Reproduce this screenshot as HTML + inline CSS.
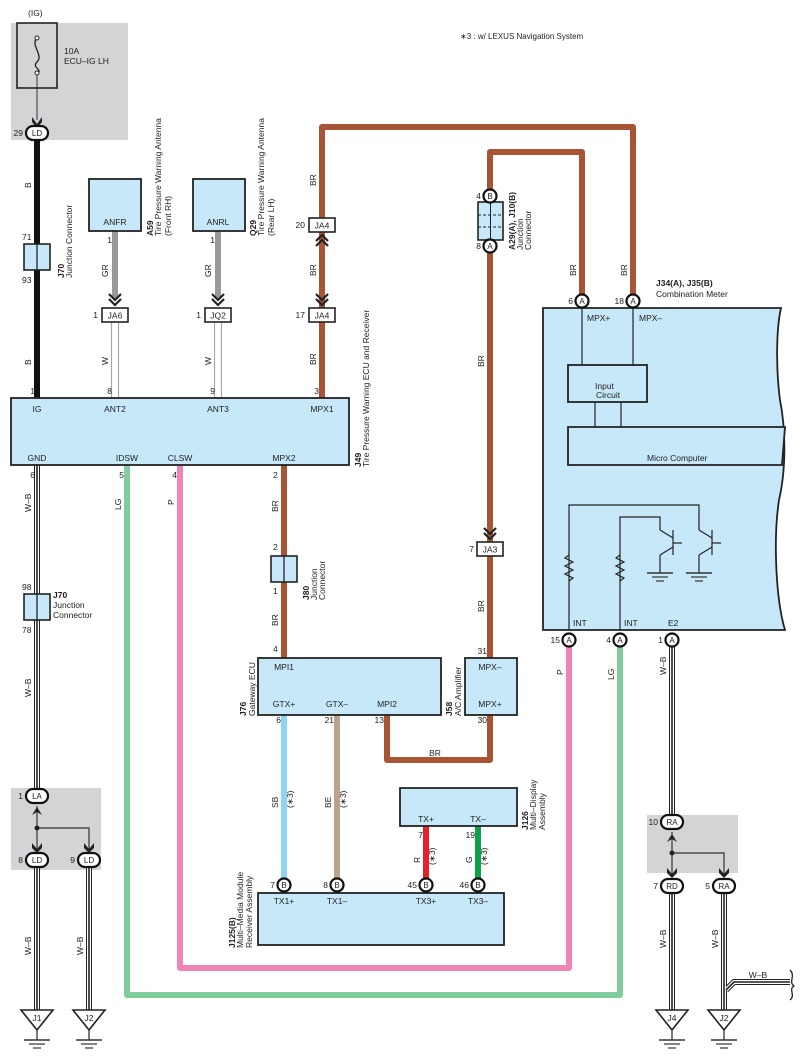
<!DOCTYPE html>
<html><head><meta charset="utf-8"><style>
html,body{margin:0;padding:0;background:#fff;}
svg{display:block;font-family:"Liberation Sans",sans-serif;}
text{fill:#222;}
</style></head><body>
<svg width="802" height="1063" viewBox="0 0 802 1063" xmlns="http://www.w3.org/2000/svg">
<defs>
<g id="chev"><polyline points="-6,-8 0,-2 6,-8" fill="none" stroke="#222" stroke-width="2.2"/><polyline points="-6,-3 0,3 6,-3" fill="none" stroke="#222" stroke-width="2.2"/></g>
<g id="gnd"><line x1="-13" y1="0" x2="13" y2="0" stroke="#333" stroke-width="1.5"/><line x1="-8" y1="4" x2="8" y2="4" stroke="#333" stroke-width="1.2"/><line x1="-4" y1="8" x2="4" y2="8" stroke="#333" stroke-width="1.2"/></g>
</defs>

<rect x="11" y="23" width="117" height="117" fill="#d3d4d6"/>
<rect x="11" y="788" width="90" height="82" fill="#d3d4d6"/>
<rect x="647" y="815" width="91" height="58" fill="#d3d4d6"/>

<text x="460" y="39" font-size="8">∗3 : w/ LEXUS Navigation System</text>
<text x="28" y="16" font-size="8.5">(IG)</text>

<rect x="17" y="23" width="40" height="65" fill="none" stroke="#222" stroke-width="1.6"/>
<path d="M37,38 C30,45 44,55 37,62 C31,68 44,70 37,73" fill="none" stroke="#222" stroke-width="1.3"/>
<circle cx="37" cy="38" r="2" fill="#fff" stroke="#222"/>
<circle cx="37" cy="73" r="2" fill="#fff" stroke="#222"/>
<line x1="37" y1="75" x2="37" y2="120" stroke="#333" stroke-width="1"/>
<path d="M32,117 L37,124 L42,117 L42,122 L37,128 L32,122Z" fill="#222"/>
<text x="64" y="54" font-size="8.5">10A</text>
<text x="64" y="64" font-size="8.5">ECU–IG LH</text>

<line x1="37" y1="140" x2="37" y2="398" stroke="#111" stroke-width="6"/>
<line x1="115" y1="231" x2="115" y2="298" stroke="#999" stroke-width="6"/>
<line x1="218" y1="231" x2="218" y2="298" stroke="#999" stroke-width="6"/>
<g stroke="#aaa" stroke-width="1.2"><line x1="111.5" y1="322" x2="111.5" y2="398"/><line x1="118.5" y1="322" x2="118.5" y2="398"/><line x1="214.5" y1="322" x2="214.5" y2="398"/><line x1="221.5" y1="322" x2="221.5" y2="398"/></g>

<g fill="none" stroke="#a85535" stroke-width="6" stroke-linejoin="round">
<polyline points="322,398 322,127 633,127 633,295"/>
<polyline points="490,658 490,152 582,152 582,295"/>
<line x1="284" y1="465" x2="284" y2="658"/>
<polyline points="387,715 387,760 490,760 490,715"/>
</g>
<polyline points="127,465 127,995 620,995 620,646" fill="none" stroke="#80cc9c" stroke-width="6" stroke-linejoin="round"/>
<polyline points="180,465 180,968 569,968 569,646" fill="none" stroke="#f085b5" stroke-width="6" stroke-linejoin="round"/>
<line x1="284" y1="715" x2="284" y2="879" stroke="#8fd4f2" stroke-width="6"/>
<line x1="337" y1="715" x2="337" y2="879" stroke="#baa28e" stroke-width="6"/>
<line x1="426" y1="826" x2="426" y2="879" stroke="#e8202a" stroke-width="6"/>
<line x1="478" y1="826" x2="478" y2="879" stroke="#0fa04a" stroke-width="6"/>

<g stroke-width="6" fill="none" stroke="#222"><line x1="37" y1="465" x2="37" y2="790"/><line x1="37" y1="867" x2="37" y2="1012"/><line x1="89" y1="867" x2="89" y2="1012"/><line x1="672" y1="646" x2="672" y2="816"/><line x1="672" y1="893" x2="672" y2="1012"/><line x1="724" y1="893" x2="724" y2="1012"/><polyline points="726,990 734,982 790,982"/></g>
<g stroke-width="4" stroke="#fff" fill="none"><line x1="37" y1="465" x2="37" y2="790"/><line x1="37" y1="867" x2="37" y2="1012"/><line x1="89" y1="867" x2="89" y2="1012"/><line x1="672" y1="646" x2="672" y2="816"/><line x1="672" y1="893" x2="672" y2="1012"/><line x1="724" y1="893" x2="724" y2="1012"/><polyline points="726,990 734,982 790,982"/></g>
<g stroke-width="1.6" stroke="#222" fill="none"><line x1="37" y1="465" x2="37" y2="790"/><line x1="37" y1="867" x2="37" y2="1012"/><line x1="89" y1="867" x2="89" y2="1012"/><line x1="672" y1="646" x2="672" y2="816"/><line x1="672" y1="893" x2="672" y2="1012"/><line x1="724" y1="893" x2="724" y2="1012"/><polyline points="726,990 734,982 790,982"/></g>
<path d="M790,970 C796,976 788,982 794,986 C788,990 796,995 790,1000" fill="none" stroke="#222" stroke-width="1.3"/>

<use href="#chev" x="115" y="302"/>
<use href="#chev" x="218" y="302"/>
<use href="#chev" x="322" y="302"/>
<g transform="translate(322,238) scale(1,-1)"><use href="#chev"/></g>
<use href="#chev" x="490" y="536"/>

<g font-size="8.5" text-anchor="middle">
<rect x="102" y="308" width="26" height="14" fill="#fff" stroke="#222" stroke-width="1.6"/><text x="115" y="318.5">JA6</text>
<rect x="205" y="308" width="26" height="14" fill="#fff" stroke="#222" stroke-width="1.6"/><text x="218" y="318.5">JQ2</text>
<rect x="309" y="218" width="26" height="14" fill="#fff" stroke="#222" stroke-width="1.6"/><text x="322" y="228.5">JA4</text>
<rect x="309" y="308" width="26" height="14" fill="#fff" stroke="#222" stroke-width="1.6"/><text x="322" y="318.5">JA4</text>
<rect x="477" y="542" width="26" height="14" fill="#fff" stroke="#222" stroke-width="1.6"/><text x="490" y="552.5">JA3</text>
</g>
<g font-size="8.5" text-anchor="end">
<text x="98" y="318">1</text><text x="201" y="318">1</text><text x="305" y="228">20</text><text x="305" y="318">17</text><text x="474" y="552">7</text>
</g>

<g fill="#c6e8f8" stroke="#222" stroke-width="1.6">
<rect x="24" y="244" width="26" height="26"/><rect x="24" y="594" width="26" height="26"/><rect x="271" y="556" width="26" height="26"/>
</g>
<g stroke="#222" stroke-width="1.3"><line x1="37" y1="244" x2="37" y2="270"/><line x1="37" y1="594" x2="37" y2="620"/><line x1="284" y1="556" x2="284" y2="582"/></g>
<g font-size="8.5"><text x="22" y="240">71</text><text x="22" y="283">93</text><text x="22" y="590">98</text><text x="22" y="633">78</text><text x="273" y="550">2</text><text x="273" y="594">1</text><text x="273" y="478">2</text><text x="273" y="652">4</text></g>
<text x="53" y="598" font-size="8.5" font-weight="bold">J70</text>
<text x="53" y="608" font-size="8.5">Junction</text>
<text x="53" y="618" font-size="8.5">Connector</text>

<rect x="478" y="202" width="25" height="38" fill="#c6e8f8" stroke="#222" stroke-width="1.6"/>
<g stroke="#222" stroke-width="1"><line x1="490.5" y1="202" x2="490.5" y2="240"/><line x1="478" y1="215" x2="503" y2="215" stroke-dasharray="3,2"/><line x1="478" y1="227" x2="503" y2="227" stroke-dasharray="3,2"/></g>

<g fill="#c6e8f8" stroke="#222" stroke-width="1.8">
<rect x="89" y="179" width="52" height="52"/><rect x="193" y="179" width="52" height="52"/>
<rect x="11" y="398" width="338" height="67"/>
<rect x="258" y="658" width="183" height="57"/>
<rect x="465" y="658" width="52" height="57"/>
<rect x="400" y="788" width="117" height="38"/>
<rect x="258" y="893" width="246" height="52"/>
<path d="M543,308 L781,308 C776,330 776,370 780,400 C786,430 786,470 779,500 C773,540 776,600 785,630 L543,630 Z"/>
</g>
<g font-size="8.5" text-anchor="middle">
<text x="115" y="225">ANFR</text><text x="218" y="225">ANRL</text>
<text x="37" y="412">IG</text><text x="115" y="412">ANT2</text><text x="218" y="412">ANT3</text><text x="322" y="412">MPX1</text>
<text x="37" y="461">GND</text><text x="127" y="461">IDSW</text><text x="180" y="461">CLSW</text><text x="284" y="461">MPX2</text>
<text x="284" y="670">MPI1</text><text x="284" y="707">GTX+</text><text x="337" y="707">GTX–</text><text x="387" y="707">MPI2</text>
<text x="490" y="670">MPX–</text><text x="490" y="707">MPX+</text>
<text x="426" y="822">TX+</text><text x="478" y="822">TX–</text>
<text x="284" y="904">TX1+</text><text x="337" y="904">TX1–</text><text x="426" y="904">TX3+</text><text x="478" y="904">TX3–</text>
</g>
<g font-size="8.5" text-anchor="end">
<text x="112" y="243">1</text><text x="215" y="243">1</text>
<text x="35" y="394">1</text><text x="112" y="394">8</text><text x="215" y="394">9</text><text x="319" y="394">3</text>
<text x="35" y="478">6</text><text x="124" y="478">5</text><text x="177" y="478">4</text>
<text x="281" y="723">6</text><text x="334" y="723">21</text><text x="384" y="723">13</text>
<text x="487" y="654">31</text><text x="487" y="723">30</text>
<text x="423" y="838">7</text><text x="475" y="838">19</text>
</g>
<text x="435" y="756" font-size="8.5" text-anchor="middle">BR</text>

<g stroke="#222" stroke-width="1.2" fill="none">
<line x1="582" y1="308" x2="582" y2="365"/><line x1="633" y1="308" x2="633" y2="365"/>
<line x1="595" y1="402" x2="595" y2="427"/><line x1="621" y1="402" x2="621" y2="427"/>
<polyline points="569,630 569,505 699,505 699,530"/>
<polyline points="620,630 620,517 660,517 660,530"/>
<polyline points="569,555 565,558 573,562 565,566 573,570 565,574 573,578 569,581"/>
<polyline points="620,555 616,558 624,562 616,566 624,570 616,574 624,578 620,581"/>
<line x1="660" y1="530" x2="673" y2="538"/><line x1="673" y1="530" x2="673" y2="555"/><line x1="673" y1="543" x2="682" y2="543"/><line x1="673" y1="547" x2="660" y2="555"/><line x1="660" y1="555" x2="660" y2="573"/>
<line x1="699" y1="530" x2="712" y2="538"/><line x1="712" y1="530" x2="712" y2="555"/><line x1="712" y1="543" x2="721" y2="543"/><line x1="712" y1="547" x2="699" y2="555"/><line x1="699" y1="555" x2="699" y2="573"/>
</g>
<use href="#gnd" x="660" y="573"/><use href="#gnd" x="699" y="573"/>
<rect x="568" y="365" width="79" height="37" fill="#c6e8f8" stroke="#222" stroke-width="1.8"/>
<path d="M568,427 L785,427 C784,440 783,452 782,465 L568,465Z" fill="#c6e8f8" stroke="#222" stroke-width="1.8"/>
<g font-size="8.5"><text x="595" y="389">Input</text><text x="596" y="398">Circuit</text>
<text x="647" y="461">Micro Computer</text>
<text x="587" y="321">MPX+</text><text x="639" y="321">MPX–</text>
<text x="573" y="626">INT</text><text x="624" y="626">INT</text><text x="668" y="626">E2</text>
<text x="656" y="286" font-weight="bold">J34(A), J35(B)</text><text x="656" y="297">Combination Meter</text>
</g>

<g stroke="#111" stroke-width="2.2" fill="#fff">
<circle cx="582" cy="301" r="6.5"/><circle cx="633" cy="301" r="6.5"/>
<circle cx="490" cy="196" r="6.5"/><circle cx="490" cy="246" r="6.5"/>
<circle cx="569" cy="640" r="6.5"/><circle cx="620" cy="640" r="6.5"/><circle cx="672" cy="640" r="6.5"/>
<circle cx="284" cy="885" r="6.5"/><circle cx="337" cy="885" r="6.5"/><circle cx="426" cy="885" r="6.5"/><circle cx="478" cy="885" r="6.5"/>
<rect x="26" y="126" width="22" height="14" rx="7"/>
<rect x="26" y="789" width="22" height="14" rx="7"/><rect x="26" y="853" width="22" height="14" rx="7"/><rect x="78" y="853" width="22" height="14" rx="7"/>
<rect x="661" y="815" width="22" height="14" rx="7"/><rect x="661" y="879" width="22" height="14" rx="7"/><rect x="713" y="879" width="22" height="14" rx="7"/>
</g>
<g font-size="8" text-anchor="middle">
<text x="582" y="304">A</text><text x="633" y="304">A</text><text x="490" y="199">B</text><text x="490" y="249">A</text>
<text x="569" y="643">A</text><text x="620" y="643">A</text><text x="672" y="643">A</text>
<text x="284" y="888">B</text><text x="337" y="888">B</text><text x="426" y="888">B</text><text x="478" y="888">B</text>
<text x="37" y="136">LD</text><text x="37" y="799">LA</text><text x="37" y="863">LD</text><text x="89" y="863">LD</text>
<text x="672" y="825">RA</text><text x="672" y="889">RD</text><text x="724" y="889">RA</text>
</g>
<g font-size="8.5" text-anchor="end">
<text x="23" y="136">29</text><text x="23" y="799">1</text><text x="23" y="863">8</text><text x="75" y="863">9</text>
<text x="658" y="825">10</text><text x="658" y="889">7</text><text x="710" y="889">5</text>
<text x="573" y="304">6</text><text x="624" y="304">18</text><text x="481" y="199">4</text><text x="481" y="249">8</text>
<text x="560" y="643">15</text><text x="611" y="643">4</text><text x="663" y="643">1</text>
<text x="275" y="888">7</text><text x="328" y="888">8</text><text x="417" y="888">45</text><text x="469" y="888">46</text>
</g>

<g stroke="#333" stroke-width="1.2" fill="none"><polyline points="37,806 37,850"/><polyline points="37,828 89,828 89,850"/><polyline points="672,832 672,876"/><polyline points="672,853 724,853 724,876"/></g>
<circle cx="37" cy="828" r="2.5" fill="#222"/><circle cx="672" cy="853" r="2.5" fill="#222"/>
<g fill="#222">
<path d="M32,815 L37,807 L42,815 L37,812Z"/><path d="M32,843 L37,849 L42,843 L42,848 L37,853 L32,848Z"/><path d="M84,843 L89,849 L94,843 L94,848 L89,853 L84,848Z"/>
<path d="M667,842 L672,834 L677,842 L672,839Z"/><path d="M667,868 L672,874 L677,868 L677,873 L672,878 L667,873Z"/><path d="M719,868 L724,874 L729,868 L729,873 L724,878 L719,873Z"/>
</g>

<g fill="#fff" stroke="#222" stroke-width="1.6">
<path d="M21,1010 L53,1010 L37,1030Z"/><path d="M73,1010 L105,1010 L89,1030Z"/><path d="M656,1010 L688,1010 L672,1030Z"/><path d="M708,1010 L740,1010 L724,1030Z"/>
</g>
<g stroke="#222" stroke-width="1.2"><line x1="37" y1="1030" x2="37" y2="1040"/><line x1="89" y1="1030" x2="89" y2="1040"/><line x1="672" y1="1030" x2="672" y2="1040"/><line x1="724" y1="1030" x2="724" y2="1040"/></g>
<use href="#gnd" x="37" y="1040"/><use href="#gnd" x="89" y="1040"/><use href="#gnd" x="672" y="1040"/><use href="#gnd" x="724" y="1040"/>
<g font-size="8.5" text-anchor="middle"><text x="37" y="1021">J1</text><text x="89" y="1021">J2</text><text x="672" y="1021">J4</text><text x="724" y="1021">J2</text></g>
<text x="758" y="978" font-size="8.5" text-anchor="middle">W–B</text>

<g font-size="8.5">
<text transform="translate(31,188) rotate(-90)">B</text>
<text transform="translate(31,365) rotate(-90)">B</text>
<text transform="translate(108,277) rotate(-90)">GR</text>
<text transform="translate(211,277) rotate(-90)">GR</text>
<text transform="translate(108,365) rotate(-90)">W</text>
<text transform="translate(211,365) rotate(-90)">W</text>
<text transform="translate(316,186) rotate(-90)">BR</text>
<text transform="translate(316,276) rotate(-90)">BR</text>
<text transform="translate(316,365) rotate(-90)">BR</text>
<text transform="translate(484,367) rotate(-90)">BR</text>
<text transform="translate(484,612) rotate(-90)">BR</text>
<text transform="translate(576,276) rotate(-90)">BR</text>
<text transform="translate(627,276) rotate(-90)">BR</text>
<text transform="translate(278,512) rotate(-90)">BR</text>
<text transform="translate(278,626) rotate(-90)">BR</text>
<text transform="translate(31,512) rotate(-90)">W–B</text>
<text transform="translate(31,697) rotate(-90)">W–B</text>
<text transform="translate(31,955) rotate(-90)">W–B</text>
<text transform="translate(83,955) rotate(-90)">W–B</text>
<text transform="translate(666,675) rotate(-90)">W–B</text>
<text transform="translate(666,948) rotate(-90)">W–B</text>
<text transform="translate(718,948) rotate(-90)">W–B</text>
<text transform="translate(121,510) rotate(-90)">LG</text>
<text transform="translate(174,505) rotate(-90)">P</text>
<text transform="translate(563,675) rotate(-90)">P</text>
<text transform="translate(614,680) rotate(-90)">LG</text>
<text transform="translate(278,808) rotate(-90)">SB</text>
<text transform="translate(331,808) rotate(-90)">BE</text>
<text transform="translate(420,863) rotate(-90)">R</text>
<text transform="translate(472,863) rotate(-90)">G</text>
<text transform="translate(293,808) rotate(-90)">(∗3)</text>
<text transform="translate(346,808) rotate(-90)">(∗3)</text>
<text transform="translate(435,865) rotate(-90)">(∗3)</text>
<text transform="translate(487,865) rotate(-90)">(∗3)</text>
</g>

<g font-size="8.5">
<text transform="translate(64,278) rotate(-90)" font-weight="bold">J70</text>
<text transform="translate(72,278) rotate(-90)">Junction Connector</text>
<text transform="translate(153,236) rotate(-90)" font-weight="bold">A59</text>
<text transform="translate(161,236) rotate(-90)">Tire Pressure Warning Antenna</text>
<text transform="translate(171,236) rotate(-90)">(Front RH)</text>
<text transform="translate(256,236) rotate(-90)" font-weight="bold">Q29</text>
<text transform="translate(264,236) rotate(-90)">Tire Pressure Warning Antenna</text>
<text transform="translate(274,236) rotate(-90)">(Rear LH)</text>
<text transform="translate(361,467) rotate(-90)" font-weight="bold">J49</text>
<text transform="translate(369,467) rotate(-90)">Tire Pressure Warning ECU and Receiver</text>
<text transform="translate(515,250) rotate(-90)" font-weight="bold">A29(A), J10(B)</text>
<text transform="translate(523,250) rotate(-90)">Junction</text>
<text transform="translate(531,250) rotate(-90)">Connector</text>
<text transform="translate(309,600) rotate(-90)" font-weight="bold">J80</text>
<text transform="translate(317,600) rotate(-90)">Junction</text>
<text transform="translate(325,600) rotate(-90)">Connector</text>
<text transform="translate(246,716) rotate(-90)" font-weight="bold">J76</text>
<text transform="translate(255,716) rotate(-90)">Gateway ECU</text>
<text transform="translate(452,716) rotate(-90)" font-weight="bold">J58</text>
<text transform="translate(461,716) rotate(-90)">A/C Amplifier</text>
<text transform="translate(528,830) rotate(-90)" font-weight="bold">J126</text>
<text transform="translate(536,830) rotate(-90)">Multi–Display</text>
<text transform="translate(545,830) rotate(-90)">Assembly</text>
<text transform="translate(235,948) rotate(-90)" font-weight="bold">J125(B)</text>
<text transform="translate(243,948) rotate(-90)">Multi–Media Module</text>
<text transform="translate(252,948) rotate(-90)">Receiver Assembly</text>
</g>
</svg>
</body></html>
